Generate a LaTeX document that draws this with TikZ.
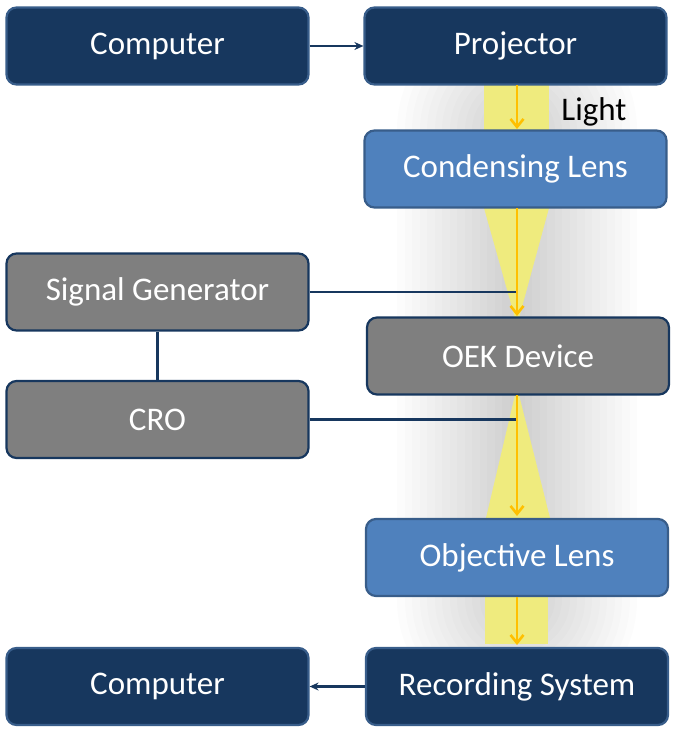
\documentclass[tikz,border=0pt]{standalone}
\usepackage{fontspec}
\setmainfont{Carlito}
\usetikzlibrary{arrows.meta}
\definecolor{navyfill}{HTML}{17375E}
\definecolor{navyedge}{HTML}{385D8A}
\definecolor{bluefill}{HTML}{4F81BD}
\definecolor{grayfill}{HTML}{7F7F7F}
\definecolor{beamyellow}{HTML}{EFEB7E}
\definecolor{beamorange}{HTML}{FFC000}
\tikzset{
  box/.style={rounded corners=10pt, line width=2.2pt, minimum height=77pt, minimum width=302pt,
    inner sep=0pt, text=white, font=\fontsize{33}{38}\selectfont},
  navybox/.style={box, fill=navyfill, draw=navyedge},
  bluebox/.style={box, fill=bluefill, draw=navyedge},
  graybox/.style={box, fill=grayfill, draw=navyfill},
  wire/.style={draw=navyfill, line width=2.4pt},
  wirearrow/.style={wire, -{Stealth[length=9pt,width=8pt]}},
  lightarrow/.style={draw=beamorange, line width=2.8pt, -{Straight Barb[length=8pt,width=13pt,line width=2.6pt]}},
  beam/.style={fill=beamyellow},
}
\begin{document}
\begin{tikzpicture}[x=1pt,y=-1pt]
\useasboundingbox (0,0) rectangle (678,735);
% glow behind the beam
\foreach \w in {240,225,...,15} {
  \draw[black, opacity=0.013, line width=\w pt, line cap=round]
    (517,130) -- (517,600);
}
% beam shapes
\fill[beam] (484,85) rectangle (549,131);
\fill[beam] (484,208) -- (549,208) -- (519,318) -- (515,318) -- cycle;
\fill[beam] (515,395) -- (519,395) -- (550,518) -- (486,518) -- cycle;
\fill[beam] (485,597) rectangle (548,644);

% nodes
\node[navybox] (comp1) at (157.5,46) {Computer};
\node[navybox] (proj) at (515.5,46) {Projector};
\node[bluebox] (cond) at (515.5,169) {Condensing Lens};
\node[graybox] (sig) at (157.5,292) {Signal Generator};
\node[graybox] (oek) at (518,356) {OEK Device};
\node[graybox] (cro) at (157.5,419.5) {CRO};
\node[bluebox] (obj) at (517,557.5) {Objective Lens};
\node[navybox] (rec) at (517,686.5) {Recording System};
\node[navybox] (comp2) at (157.5,686.5) {Computer};
\node[anchor=center, font=\fontsize{33}{38}\selectfont] (light) at (594,112) {Light};

\coordinate (sigend) at (517,292);
\coordinate (croend) at (517,419.5);

% connectors
\draw[wirearrow] (comp1.east) -- (proj.west);
\draw[wirearrow] (rec.west) -- (comp2.east);
\draw[wire] (sig.east) -- (sigend);
\draw[wire] (cro.east) -- (croend);
\draw[wire] (sig.south) -- (cro.north);

% light arrows
\draw[lightarrow] (517,85) -- (517,129);
\draw[lightarrow] (517,208) -- (517,316);
\draw[lightarrow] (517,395) -- (517,516);
\draw[lightarrow] (517,597) -- (517,645);
\end{tikzpicture}
\end{document}
